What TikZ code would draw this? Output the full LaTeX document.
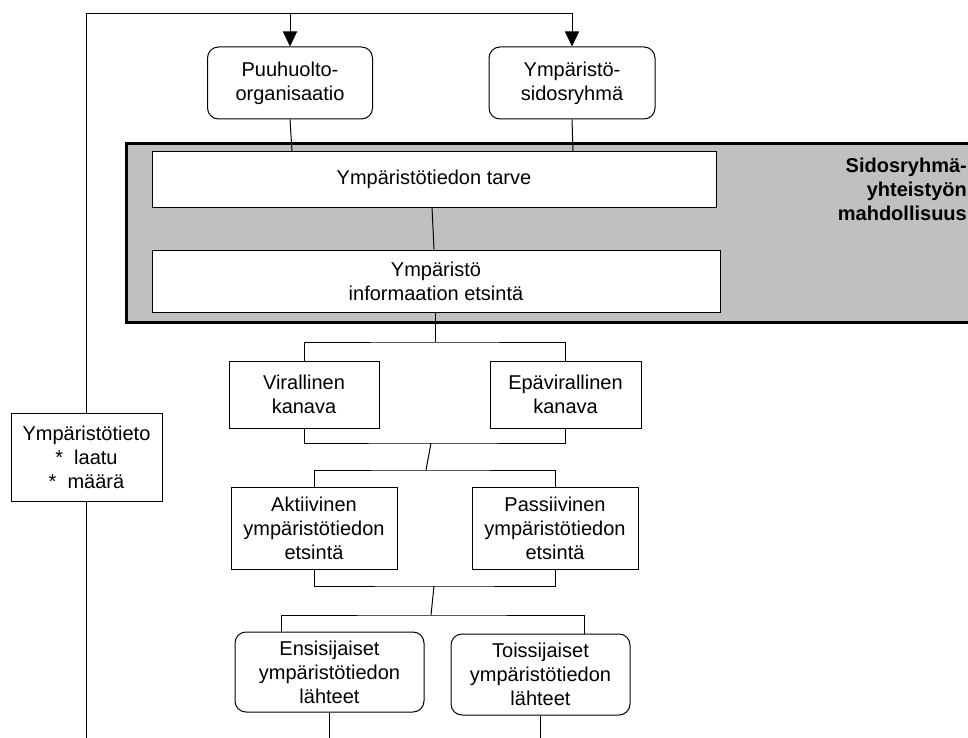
\documentclass[tikz,border=0pt]{standalone}
\usepackage{fontspec}
\setmainfont{Liberation Sans}
\usetikzlibrary{arrows.meta}
\definecolor{grpgray}{HTML}{C0C0C0}
\tikzset{
  box/.style={draw, line width=1pt, fill=white, inner sep=0pt, align=center,
              font=\fontsize{20}{24}\selectfont},
  rbox/.style={box, rounded corners=11pt},
  conn/.style={line width=1pt},
  arr/.style={conn, -{Triangle[length=15pt,width=14pt]}},
}
\begin{document}
\begin{tikzpicture}[x=1pt,y=-1pt]
\clip (0,0) rectangle (968,738);
\fill[white] (0,0) rectangle (968,738);
% group
\node[draw, line width=3pt, fill=grpgray, minimum width=863pt, minimum height=179pt, inner sep=0pt] (group) at (558,233) {};
\node[anchor=east, align=right, inner sep=0pt, font=\bfseries\fontsize{20}{24}\selectfont] (sidos) at (967,189) {Sidosryhmä-\\yhteistyön\\mahdollisuus};
% boxes
\node[rbox, minimum width=165pt, minimum height=72pt] (puu) at (290,83) {Puuhuolto-\\organisaatio};
\node[rbox, minimum width=166pt, minimum height=72pt] (ymps) at (572,83) {Ympäristö-\\sidosryhmä};
\node[box, minimum width=564pt, minimum height=55pt] (tarve) at (434,179.5) {Ympäristötiedon tarve};
\node[box, minimum width=568pt, minimum height=62pt] (info) at (436,281) {Ympäristö\\informaation etsintä};
\node[box, minimum width=150pt, minimum height=67pt] (vir) at (304,394.5) {Virallinen\\kanava};
\node[box, minimum width=151pt, minimum height=67pt] (epa) at (565.5,394.5) {Epävirallinen\\kanava};
\node[box, minimum width=166pt, minimum height=82pt] (akt) at (314,528) {Aktiivinen\\ympäristötiedon\\etsintä};
\node[box, minimum width=166pt, minimum height=82pt] (pas) at (555,528) {Passiivinen\\ympäristötiedon\\etsintä};
\node[rbox, minimum width=189pt, minimum height=80pt] (ens) at (329.5,672) {Ensisijaiset\\ympäristötiedon\\lähteet};
\node[rbox, minimum width=179pt, minimum height=81pt] (tois) at (540.5,674.5) {Toissijaiset\\ympäristötiedon\\lähteet};
\node[box, minimum width=151pt, minimum height=88pt] (tieto) at (86.5,457) {Ympäristötieto\\*\ \ laatu\\*\ \ määrä};
% helper coordinates
\coordinate (top) at (0,14);
\coordinate (bot) at (0,738);
\coordinate (b1) at (435,342);
\coordinate (b2) at (431,443);
\coordinate (b3) at (426,470);
\coordinate (b4) at (434,586);
\coordinate (b5) at (431,615);
% feedback loop
\draw[arr] (tieto.north) -- (tieto.north |- top) -| (ymps.north);
\draw[arr] (puu.north |- top) -- (puu.north);
\draw[conn] (tieto.south) -- (tieto.south |- bot);
% into group
\draw[conn] (puu.south) -- ([xshift=2pt]puu.south |- tarve.north);
\draw[conn] (ymps.south) -- ([xshift=1pt]ymps.south |- tarve.north);
\draw[conn] ([xshift=-2pt]tarve.south) -- ([xshift=-2pt]info.north);
% tree
\draw[conn] ([xshift=-1pt]info.south) -- (b1);
\draw[conn] (vir.north) |- (b1) -| (epa.north);
\draw[conn] (vir.south) |- (b2) -| (epa.south);
\draw[conn] (b2) -- (b3);
\draw[conn] (akt.north) |- (b3) -| (pas.north);
\draw[conn] (akt.south) |- (b4) -| (pas.south);
\draw[conn] (b4) -- (b5);
\draw[conn] ([xshift=-48.5pt]ens.north) |- (b5) -| ([xshift=43.5pt]tois.north);
\draw[conn] (ens.south) -- (ens.south |- bot);
\draw[conn] (tois.south) -- (tois.south |- bot);
\end{tikzpicture}
\end{document}
